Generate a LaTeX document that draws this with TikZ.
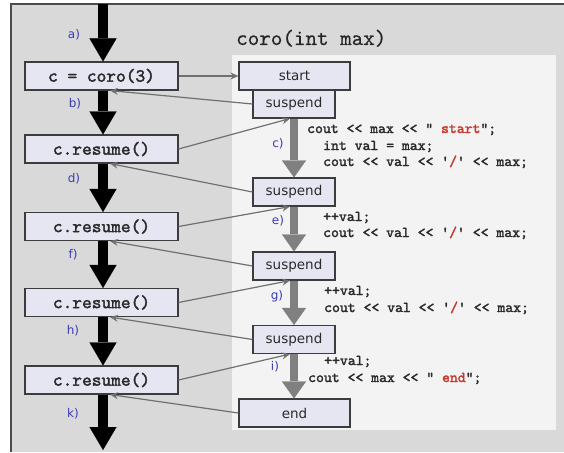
\documentclass[tikz,border=0pt]{standalone}
\usepackage{fontspec}
\setmainfont{DejaVu Sans}
\setmonofont{lmmono10-regular}[Extension=.otf, FakeBold=2]
\newfontfamily\titlefont{lmmono10-regular}[Extension=.otf, FakeBold=0.5]
\usetikzlibrary{arrows.meta,calc}

\definecolor{bggray}{HTML}{D9D9D9}
\definecolor{panel}{HTML}{F3F3F3}
\definecolor{boxfill}{HTML}{E6E6F2}
\definecolor{boxline}{HTML}{3C3C3C}
\definecolor{lblue}{HTML}{3C3CB4}
\definecolor{linkgray}{HTML}{707070}
\definecolor{flowgray}{HTML}{808080}
\definecolor{strred}{HTML}{C43A2E}
\definecolor{codeink}{HTML}{2A2A2A}

\tikzset{
  callbox/.style={draw=boxline, line width=1.1pt, fill=boxfill,
    minimum width=153pt, minimum height=28pt, inner sep=0pt,
    font=\ttfamily\fontsize{18.5}{20}\selectfont, text=codeink},
  statebox/.style={draw=boxline, line width=1.1pt, fill=boxfill,
    minimum height=28pt, inner sep=0pt,
    font=\fontsize{13.5}{15}\selectfont, text=codeink},
  mainflow/.style={draw=black, line width=10pt,
    -{Triangle[width=27pt,length=23pt,line width=0.1pt]}},
  coroflow/.style={draw=flowgray, line width=8pt,
    -{Triangle[width=24pt,length=17pt,line width=0.1pt]}},
  link/.style={draw=linkgray, line width=1.2pt,
    -{Stealth[length=8pt,width=7pt]}},
  tag/.style={text=lblue, inner sep=0pt, font=\fontsize{12}{13}\selectfont},
  code/.style={anchor=base west, inner sep=0pt, text=codeink,
    font=\ttfamily\fontsize{15}{16}\selectfont},
}

\begin{document}
\begin{tikzpicture}[x=1pt,y=-1pt]
  \useasboundingbox (0,0) rectangle (564,452);
  % frame and coroutine panel
  \fill[bggray] (11,4) rectangle (564,452);
  \draw[line width=1.5pt, black!70] (11,452) -- (11,4) -- (564,4);
  \fill[panel] (232,55) rectangle (556,430);

  \node[anchor=base west, inner sep=0pt, text=black!85,
        font=\titlefont\fontsize{22}{24}\selectfont] (title) at (236,45) {coro(int max)};

  % caller side
  \node[callbox] (init) at (101.5,76)  {c = coro(3)};
  \node[callbox] (r1)   at (101.5,149) {c.resume()};
  \node[callbox] (r2)   at (101.5,226.5) {c.resume()};
  \node[callbox] (r3)   at (101.5,302.5) {c.resume()};
  \node[callbox] (r4)   at (101.5,380) {c.resume()};

  % coroutine side
  \node[statebox, minimum width=111pt] (start) at (294.5,76) {start};
  \node[statebox, minimum width=82pt]  (s1)    at (294,104)  {suspend};
  \node[statebox, minimum width=82pt]  (s2)    at (294,192)  {suspend};
  \node[statebox, minimum width=82pt]  (s3)    at (294,266)  {suspend};
  \node[statebox, minimum width=82pt]  (s4)    at (294,339.5) {suspend};
  \node[statebox, minimum width=111pt] (end)   at (294.5,413) {end};

  % main control flow
  \coordinate (top) at (103,4);
  \coordinate (bottom) at (103,450);
  \draw[mainflow] (top) -- (init.north -| top);
  \draw[mainflow] (init.south -| top) -- (r1.north -| top);
  \draw[mainflow] (r1.south -| top) -- (r2.north -| top);
  \draw[mainflow] (r2.south -| top) -- (r3.north -| top);
  \draw[mainflow] (r3.south -| top) -- (r4.north -| top);
  \draw[mainflow] (r4.south -| top) -- (bottom);

  % coroutine control flow
  \draw[coroflow] (s1.south) -- (s2.north);
  \draw[coroflow] (s2.south) -- (s3.north);
  \draw[coroflow] (s3.south) -- (s4.north);
  \draw[coroflow] (s4.south) -- (end.north -| s4.south);

  % context switches
  \coordinate (lx) at (110,0);
  \coordinate (rx) at (290,0);
  \draw[link] (init.east) -- (start.west);
  \draw[link] (s1.west) -- (init.south -| lx);
  \draw[link] (r1.east) -- (s1.south -| rx);
  \draw[link] (s2.west) -- (r1.south -| lx);
  \draw[link] (r2.east) -- (s2.south -| rx);
  \draw[link] (s3.west) -- (r2.south -| lx);
  \draw[link] (r3.east) -- (s3.south -| rx);
  \draw[link] (s4.west) -- (r3.south -| lx);
  \draw[link] (r4.east) -- (s4.south -| rx);
  \draw[link] (end.west) -- (r4.south -| lx);

  % step labels
  \node[tag] (la) at (74,35)  {a)};
  \node[tag] (lb) at (75,104) {b)};
  \node[tag] (ld) at (74,179) {d)};
  \node[tag] (lf) at (73,255) {f)};
  \node[tag] (lh) at (73,331) {h)};
  \node[tag] (lk) at (73,414) {k)};
  \node[tag] (lc) at (278,144) {c)};
  \node[tag] (le) at (278,221) {e)};
  \node[tag] (lg) at (277,296) {g)};
  \node[tag] (li) at (275,367) {i)};

  % coroutine body
  \node[code] (c1) at (307,133) {cout << max << " \textcolor{strred}{start}";};
  \node[code] (c2) at (323,150) {int val = max;};
  \node[code] (c3) at (323,166) {cout << val << '\textcolor{strred}{/}' << max;};
  \node[code] (c4) at (323,221) {++val;};
  \node[code] (c5) at (323,237) {cout << val << '\textcolor{strred}{/}' << max;};
  \node[code] (c6) at (324,295) {++val;};
  \node[code] (c7) at (324,312) {cout << val << '\textcolor{strred}{/}' << max;};
  \node[code] (c8) at (324,365) {++val;};
  \node[code] (c9) at (308,382) {cout << max << " \textcolor{strred}{end}";};
\end{tikzpicture}
\end{document}
